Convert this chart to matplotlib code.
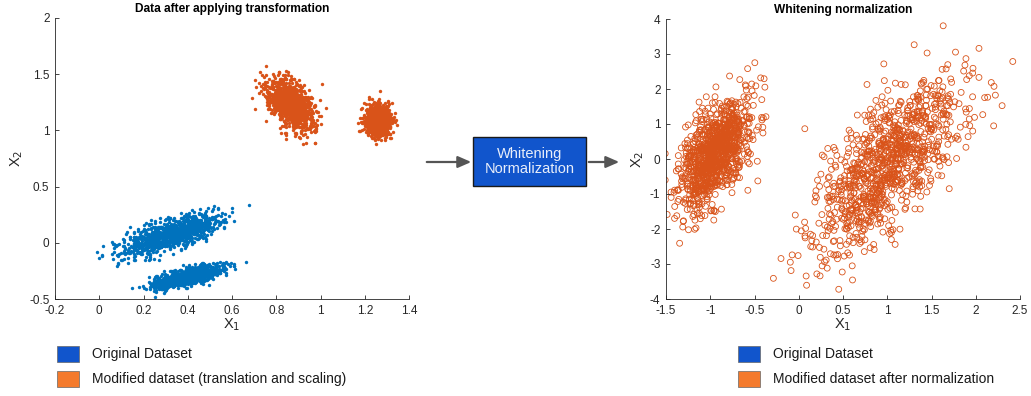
import numpy as np
import matplotlib
matplotlib.use("Agg")
import matplotlib.pyplot as plt
from matplotlib.patches import Rectangle, FancyArrowPatch

plt.rcParams['font.family'] = ['Liberation Sans', 'DejaVu Sans']

# Cluster descriptions: centre, standard deviations, correlation, number of points
orig_means = [(0.32, 0.08), (0.40, -0.30)]
orig_stds = [(0.11, 0.095), (0.075, 0.05)]
orig_corr = [0.72, 0.70]
orig_counts = [1000, 1000]

mod_means = [(0.86, 1.24), (1.26, 1.09)]
mod_stds = [(0.055, 0.115), (0.03, 0.07)]
mod_corr = [-0.50, 0.0]
mod_counts = [1000, 1000]

white_means = [(-0.95, 0.15), (1.00, -0.20)]
white_stds = [(0.20, 0.75), (0.42, 1.20)]
white_corr = [0.55, 0.68]
white_counts = [1000, 1000]

left_xticks = [-0.2, 0, 0.2, 0.4, 0.6, 0.8, 1, 1.2, 1.4]
left_yticks = [-0.5, 0, 0.5, 1, 1.5, 2]
right_xticks = [-1.5, -1, -0.5, 0, 0.5, 1, 1.5, 2, 2.5]
right_yticks = [-4, -3, -2, -1, 0, 1, 2, 3, 4]

left_legend = ["Original Dataset", "Modified dataset (translation and scaling)"]
right_legend = ["Original Dataset", "Modified dataset after normalization"]

BLUE = "#0072BD"
ORANGE = "#D95319"
PATCH_BLUE = "#1155CC"
PATCH_ORANGE = "#F47A2C"

rng = np.random.default_rng(7)


def cloud(mean, std, corr, n):
    cov = np.array([[std[0] ** 2, corr * std[0] * std[1]],
                    [corr * std[0] * std[1], std[1] ** 2]])
    return rng.multivariate_normal(mean, cov, size=n)


def fmt(v):
    return ("%g" % v)


W, H = 1031, 396
fig = plt.figure(figsize=(W / 100, H / 100), dpi=100)


def style_axes(ax, xt, yt, xlim, ylim, title):
    ax.set_xlim(*xlim)
    ax.set_ylim(*ylim)
    ax.set_xticks(xt)
    ax.set_yticks(yt)
    ax.set_xticklabels([fmt(v) for v in xt])
    ax.set_yticklabels([fmt(v) for v in yt])
    for s in ("top", "right"):
        ax.spines[s].set_visible(False)
    for s in ("left", "bottom"):
        ax.spines[s].set_color("#262626")
        ax.spines[s].set_linewidth(0.6)
    ax.tick_params(direction="in", length=3, width=0.6, labelsize=8.5,
                   colors="#262626")
    ax.tick_params(axis="x", pad=4)
    ax.tick_params(axis="y", pad=4)
    ax.set_xlabel("X$_1$", fontsize=10.5, color="#262626", labelpad=0)
    ax.set_ylabel("X$_2$", fontsize=10.5, color="#262626", labelpad=3)
    ax.set_title(title, fontsize=8.6, fontweight="bold", pad=4)


# Left panel: data after transformation
ax1 = fig.add_axes([55 / W, 97 / H, 354 / W, 281 / H])
for m, s, c, n in zip(orig_means, orig_stds, orig_corr, orig_counts):
    p = cloud(m, s, c, n)
    ax1.scatter(p[:, 0], p[:, 1], s=6, color=BLUE, linewidths=0)
for m, s, c, n in zip(mod_means, mod_stds, mod_corr, mod_counts):
    p = cloud(m, s, c, n)
    ax1.scatter(p[:, 0], p[:, 1], s=6, color=ORANGE, linewidths=0)
style_axes(ax1, left_xticks, left_yticks, (-0.2, 1.4), (-0.5, 2),
           "Data after applying transformation")

# Right panel: whitened data
ax2 = fig.add_axes([666 / W, 97 / H, 354 / W, 280 / H])
for m, s, c, n in zip(white_means, white_stds, white_corr, white_counts):
    p = cloud(m, s, c, n)
    ax2.scatter(p[:, 0], p[:, 1], s=18, facecolors="none",
                edgecolors=ORANGE, linewidths=0.6)
style_axes(ax2, right_xticks, right_yticks, (-1.5, 2.5), (-4, 4),
           "Whitening normalization")


def fx(px):
    return px / W


def fy(py):
    return 1 - py / H


# Middle block with arrows
fig.patches.append(Rectangle((fx(473), fy(186)), (586 - 473) / W, (186 - 137) / H,
                             transform=fig.transFigure, facecolor=PATCH_BLUE,
                             edgecolor="#1a1a1a", linewidth=1.0))
fig.text(fx(529.5), fy(161.5), "Whitening\nNormalization", color="#E8EEFA",
         fontsize=10.5, ha="center", va="center", linespacing=1.15)
arrow = dict(arrowstyle="-|>,head_length=0.8,head_width=0.35", color="#555555", lw=1.6)
fig.add_artist(FancyArrowPatch((fx(424), fy(162)), (fx(474), fy(162)),
                               transform=fig.transFigure, mutation_scale=10, **arrow))
fig.add_artist(FancyArrowPatch((fx(586), fy(162)), (fx(622), fy(162)),
                               transform=fig.transFigure, mutation_scale=10, **arrow))


# Legends below each panel
def legend(x_patch, x_text, labels):
    for i, (lab, col) in enumerate(zip(labels, [PATCH_BLUE, PATCH_ORANGE])):
        top = 346 + i * 25
        fig.patches.append(Rectangle((fx(x_patch), fy(top + 16)), 22 / W, 16 / H,
                                     transform=fig.transFigure, facecolor=col,
                                     edgecolor="#666666", linewidth=0.5))
        fig.text(fx(x_text), fy(top + 8), lab, fontsize=10, va="center",
                 ha="left", color="#1a1a1a")


legend(57, 92, left_legend)
legend(738, 773, right_legend)

fig.savefig("out.png", dpi=100)
